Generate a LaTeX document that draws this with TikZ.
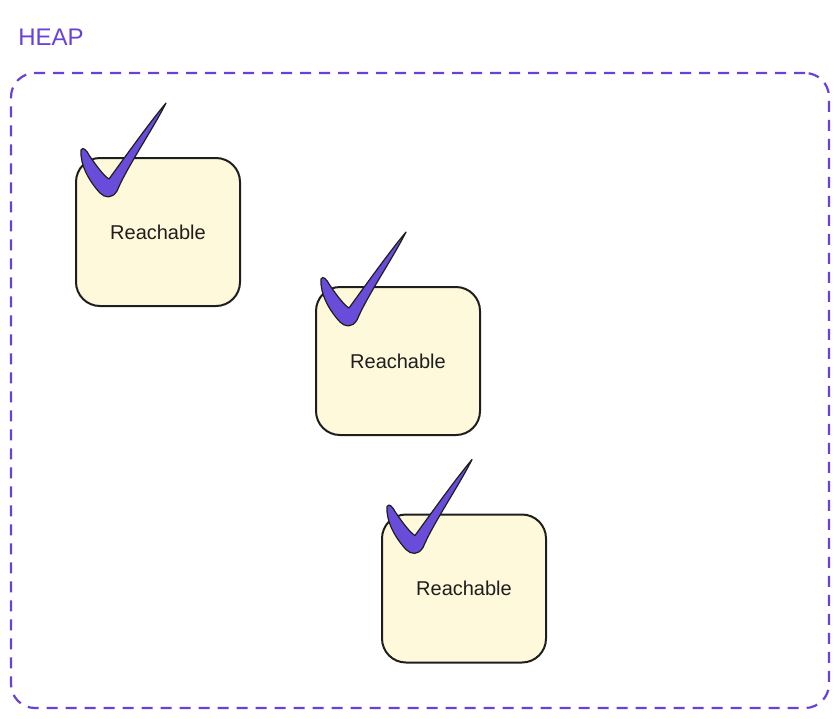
\documentclass[tikz,border=0pt]{standalone}
\usepackage{fontspec}
\setmainfont{Liberation Sans}
\usetikzlibrary{positioning}

\definecolor{heapviolet}{HTML}{6741D9}
\definecolor{checkviolet}{HTML}{6A4CDB}
\definecolor{notefill}{HTML}{FFF9DB}
\definecolor{inkgray}{HTML}{1E1E1E}

\tikzset{
    checkmark/.pic={
        \filldraw[fill=checkviolet, draw=inkgray, line width=0.6pt, line join=round]
            (6,-7) .. controls (8,-11) and (12,-6) .. (14,-2)
            .. controls (22,10) and (30,20) .. (34,22)
            .. controls (50,0) and (75,-35) .. (91,-54)
            .. controls (78,-28) and (52,10) .. (42,34)
            .. controls (37,42) and (30,41) .. (25,36)
            .. controls (14,24) and (5,8) .. cycle;
    }
}

\begin{document}
\begin{tikzpicture}[
        x=0.5pt, y=-0.5pt,
        heapframe/.style={draw=heapviolet, line width=1.1pt, dash pattern=on 5.5pt off 4pt,
            rounded corners=12pt, minimum width=409pt, minimum height=317.5pt},
        heaplabel/.style={text=heapviolet, font=\fontsize{12}{14}\selectfont, inner sep=0pt},
        objbox/.style={draw=inkgray, fill=notefill, line width=1pt, rounded corners=12pt,
            minimum width=82pt, minimum height=74pt, text=inkgray,
            font=\fontsize{10}{12}\selectfont}
    ]
        \useasboundingbox (0,0) rectangle (838,718);
        \node[heapframe] (heap) at (420,390.5) {};
        \node[heaplabel, anchor=south west] (heaptitle) at (18,46) {HEAP};

        % reachable objects
        \node[objbox] (objA) at (158,232) {\raisebox{-2.5pt}{Reachable}};
        \node[objbox] (objB) at (398,361) {\raisebox{-2pt}{Reachable}};
        \node[objbox] (objC) at (464,588.5) {\raisebox{-2pt}{Reachable}};

        \pic at (objA.north west) {checkmark};
        \pic at (objB.north west) {checkmark};
        \pic at (objC.north west) {checkmark};
    \end{tikzpicture}
\end{document}
